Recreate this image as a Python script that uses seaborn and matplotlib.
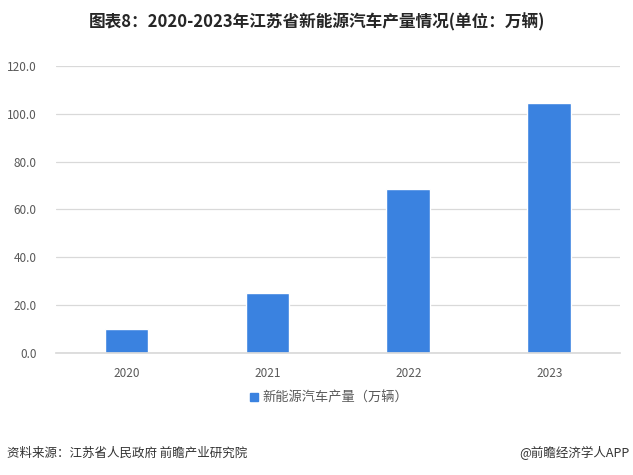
import pandas as pd
import seaborn as sns
import matplotlib.pyplot as plt
from matplotlib.patches import Patch

years = ["2020", "2021", "2022", "2023"]
output = [10.0, 25.1, 68.6, 104.6]
series_name = "新能源汽车产量（万辆）"
title = "图表8：2020-2023年江苏省新能源汽车产量情况(单位：万辆)"
source = "资料来源：江苏省人民政府 前瞻产业研究院"
credit = "@前瞻经济学人APP"

df = pd.DataFrame({"year": years, "value": output})

sns.set_theme(style="white")
plt.rcParams['font.family'] = ['Noto Sans CJK SC', 'DejaVu Sans']

fig = plt.figure(figsize=(6.33, 4.75), dpi=100)
ax = fig.add_axes([0.0885, 0.257, 0.8905, 0.604])

bar_color = "#3A82E0"
sns.barplot(data=df, x="year", y="value", color=bar_color, width=0.31,
            saturation=1, ax=ax)

ax.set_ylim(0, 120)
ax.set_yticks(range(0, 121, 20))
ax.set_yticklabels([f"{v:.1f}" for v in range(0, 121, 20)])
ax.yaxis.grid(True, color="#D9D9D9", linewidth=0.9)
ax.set_axisbelow(True)
for s in ["top", "right", "left"]:
    ax.spines[s].set_visible(False)
ax.spines["bottom"].set_color("#D9D9D9")
ax.set_xlabel("")
ax.set_ylabel("")
ax.tick_params(axis="both", length=0, labelsize=8.5, labelcolor="#595959", pad=10)
ax.tick_params(axis="y", pad=14)

fig.legend(handles=[Patch(color=bar_color, label=series_name)],
           loc="center", bbox_to_anchor=(0.52, 0.162), frameon=False,
           fontsize=9.5, handlelength=0.6, handleheight=0.6, handletextpad=0.3,
           labelcolor="#595959")

fig.text(0.5, 0.953, title, ha="center", va="center", fontsize=12,
         fontweight="bold", color="#262626")
fig.text(0.011, 0.046, source, ha="left", va="center", fontsize=9,
         color="#333333")
fig.text(0.995, 0.046, credit, ha="right", va="center", fontsize=9,
         color="#333333")

fig.savefig("out.png", dpi=100)
